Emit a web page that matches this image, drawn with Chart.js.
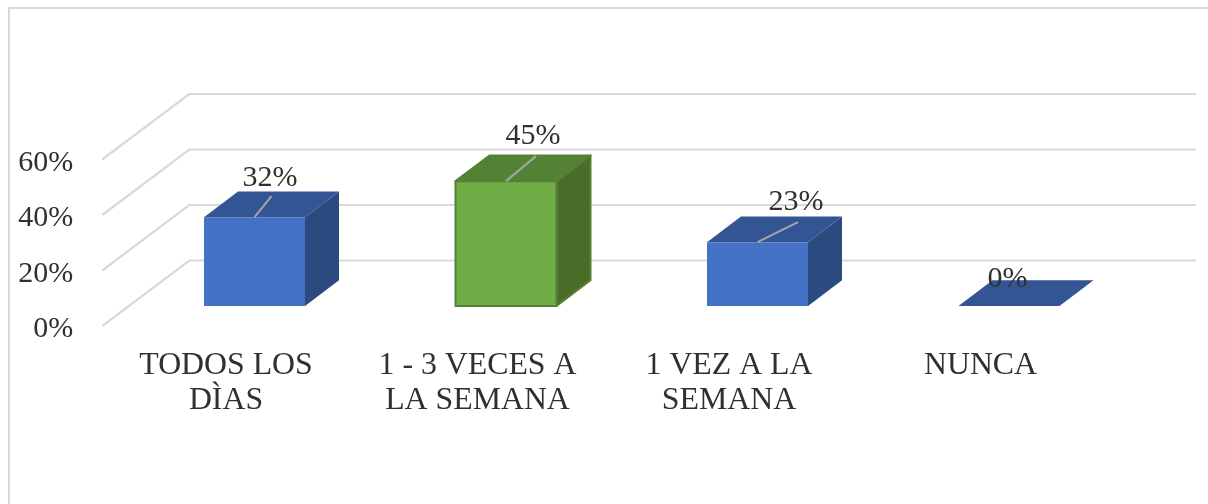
<!DOCTYPE html>
<html>
<head>
<meta charset="utf-8">
<script src="https://cdn.jsdelivr.net/npm/chart.js@4"></script>
<style>
    html, body { margin: 0; background: #fff; }
    #frame { position: absolute; left: 8px; top: 7px; width: 1200px; height: 497px; box-sizing: border-box; border-left: 2px solid #d9d9d9; border-top: 2px solid #d9d9d9; }
    canvas { position: absolute; left: 0; top: 0; }
</style>
</head>
<body>
<div id="frame"></div>
<canvas id="chart" width="1208" height="504"></canvas>
<script>
const categories = [['TODOS LOS', 'DÌAS'], ['1 - 3 VECES A', 'LA SEMANA'], ['1 VEZ A LA', 'SEMANA'], 'NUNCA'];
const values = [32, 45, 23, 0];
const tickValues = [0, 20, 40, 60];

const frontColors = ['#4472c4', '#70ad47', '#4472c4', '#4472c4'];
const sideColors = ['#2a4a80', '#4a6e2a', '#2a4a80', '#2a4a80'];
const topColors = ['#335593', '#548235', '#335593', '#335593'];
const outlined = [false, true, false, false];

// where each label and its leader line sit, relative to the bar's top front centre
const labelOffsets = [[15.5, -39.5], [27, -45.5], [38.5, -40], [-1.5, -27]];
const leaderEnds = [[17, -21], [30, -25], [40.5, -20], null];

const NUM_FONT = '30px "Liberation Serif"';
const TEXT_COLOR = '#303030';

// the bars stand this far into the box from the front edge of the floor
const BAR_SHIFT_X = 28.5, BAR_SHIFT_Y = -20;
// bar depth
const DEPTH_X = 34, DEPTH_Y = -25.7;
// side wall depth
const WALL_X = 87, WALL_Y = -65.5;

function poly(ctx, pts, color, outline) {
    ctx.beginPath();
    ctx.moveTo(pts[0][0], pts[0][1]);
    for (let i = 1; i < pts.length; i++) ctx.lineTo(pts[i][0], pts[i][1]);
    ctx.closePath();
    ctx.fillStyle = color;
    ctx.fill();
    if (outline) {
        ctx.strokeStyle = outline;
        ctx.lineWidth = 2;
        ctx.lineJoin = 'round';
        ctx.stroke();
    }
}

const box3d = {
    id: 'box3d',
    beforeDatasetsDraw(chart) {
        const ctx = chart.ctx;
        const y = chart.scales.y;
        const startX = chart.chartArea.left + 2;

        ctx.save();
        ctx.strokeStyle = '#d9d9d9';
        ctx.lineWidth = 2.2;
        tickValues.forEach(function (v) {
            const py = y.getPixelForValue(v);
            ctx.beginPath();
            ctx.moveTo(startX, py);
            ctx.lineTo(startX + WALL_X, py + WALL_Y);
            ctx.lineTo(1196, py + WALL_Y);
            ctx.stroke();
        });
        ctx.restore();

        ctx.save();
        ctx.translate(BAR_SHIFT_X, BAR_SHIFT_Y);
        chart.getDatasetMeta(0).data.forEach(function (bar, i) {
            const l = bar.x - bar.width / 2, r = bar.x + bar.width / 2;
            const t = bar.y, b = bar.base;
            const outline = outlined[i] ? topColors[i] : null;
            if (t !== b) {
                poly(ctx, [[r, t], [r + DEPTH_X, t + DEPTH_Y], [r + DEPTH_X, b + DEPTH_Y], [r, b]], sideColors[i], outline);
            }
            poly(ctx, [[l, t], [l + DEPTH_X, t + DEPTH_Y], [r + DEPTH_X, t + DEPTH_Y], [r, t]], topColors[i], outline);
        });
        // stays translated while Chart.js draws the front faces
    },
    afterDatasetsDraw(chart) {
        const ctx = chart.ctx;
        chart.getDatasetMeta(0).data.forEach(function (bar, i) {
            if (!outlined[i]) return;
            ctx.strokeStyle = topColors[i];
            ctx.lineWidth = 2;
            ctx.strokeRect(bar.x - bar.width / 2, bar.y, bar.width, bar.base - bar.y);
        });
        ctx.restore();

        ctx.save();
        ctx.font = NUM_FONT;
        ctx.textAlign = 'center';
        ctx.textBaseline = 'middle';
        chart.getDatasetMeta(0).data.forEach(function (bar, i) {
            const cx = bar.x + BAR_SHIFT_X, cy = bar.y + BAR_SHIFT_Y;
            if (leaderEnds[i]) {
                ctx.beginPath();
                ctx.moveTo(cx, cy);
                ctx.lineTo(cx + leaderEnds[i][0], cy + leaderEnds[i][1]);
                ctx.strokeStyle = '#a6a6a6';
                ctx.lineWidth = 2;
                ctx.stroke();
            }
            ctx.fillStyle = TEXT_COLOR;
            ctx.fillText(values[i] + '%', cx + labelOffsets[i][0], cy + labelOffsets[i][1]);
        });
        ctx.restore();
    }
};

new Chart(document.getElementById('chart'), {
    type: 'bar',
    data: {
        labels: categories,
        datasets: [{
            data: values,
            backgroundColor: frontColors,
            borderWidth: 0,
            barPercentage: 0.4016,
            categoryPercentage: 1
        }]
    },
    options: {
        responsive: false,
        animation: false,
        layout: { padding: { top: 159.5, right: 101.75, left: 0, bottom: 0 } },
        plugins: { legend: { display: false }, tooltip: { enabled: false } },
        scales: {
            x: {
                grid: { display: false },
                border: { display: false },
                afterFit: function (scale) { scale.height = 178; },
                ticks: {
                    color: TEXT_COLOR,
                    font: { family: 'Liberation Serif', size: 31.8, lineHeight: 1.1 },
                    padding: 14,
                    maxRotation: 0,
                    autoSkip: false
                }
            },
            y: {
                min: 0,
                max: 60,
                grid: { display: false, drawTicks: false },
                border: { display: false },
                afterFit: function (scale) { scale.width = 100.25; },
                afterBuildTicks: function (scale) {
                    scale.ticks = tickValues.map(function (v) { return { value: v }; });
                },
                ticks: {
                    color: TEXT_COLOR,
                    font: { family: 'Liberation Serif', size: 30 },
                    padding: 27,
                    labelOffset: 3.5,
                    callback: function (v) { return v + '%'; }
                }
            }
        }
    },
    plugins: [box3d]
});
</script>
</body>
</html>
